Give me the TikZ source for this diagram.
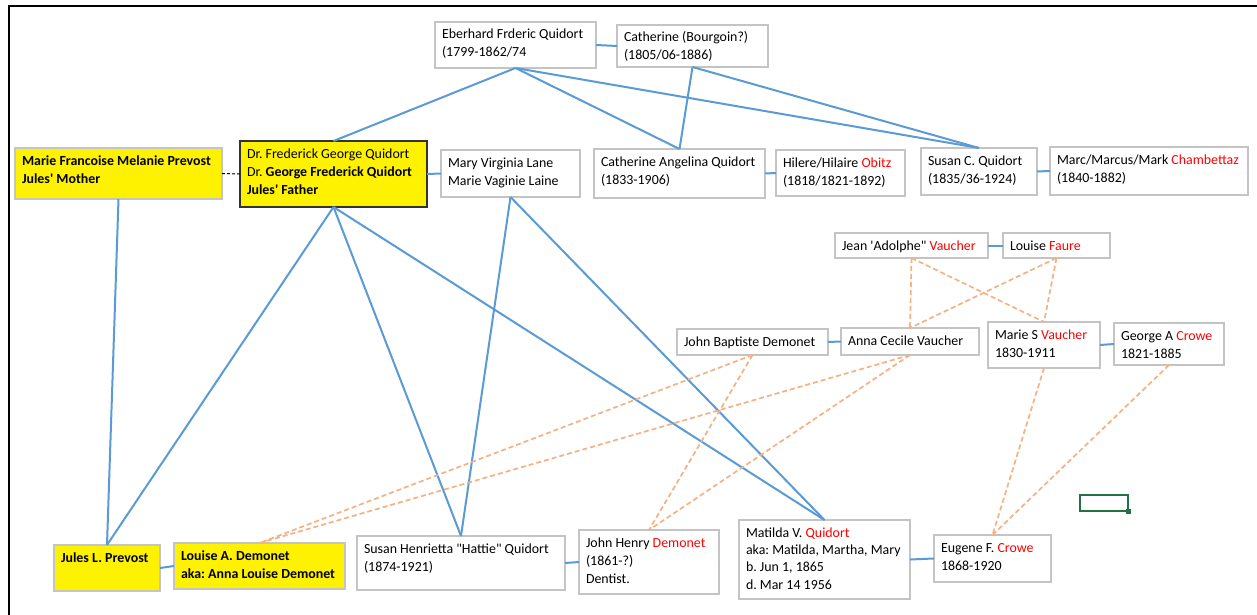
\documentclass[tikz,border=0pt]{standalone}
\usepackage{fontspec}
\setmainfont{Carlito}[Ligatures=TeXOff]
\frenchspacing
\definecolor{lblue}{HTML}{5B9BD5}
\definecolor{lorange}{HTML}{F4B183}
\definecolor{bgray}{HTML}{C4C4C4}
\definecolor{xgreen}{HTML}{217346}
\newcommand{\fbx}[7]{\node[#1] (#2) at (#3,#4) {\parbox[c][#6pt][t]{#5pt}{\frenchspacing\leftskip=7pt\rightskip=0pt plus 1fil\relax\rule{0pt}{17pt}#7}};}
\tikzset{
  x=1pt, y=-1pt,
  box/.style={draw=bgray, line width=1.3pt, fill=white, inner sep=0pt, outer sep=0pt, anchor=north west,
    font=\fontsize{13.9}{18}\selectfont},
  ybox/.style={box, fill=yellow},
  dbox/.style={box, fill=yellow, draw=black!80},
  bl/.style={draw=lblue, line width=2pt},
  ol/.style={draw=lorange, line width=1.7pt, dash pattern=on 5pt off 3pt},
  kd/.style={draw=black, line width=1pt, dash pattern=on 3pt off 2pt}
}
\begin{document}
\begin{tikzpicture}
\useasboundingbox (0,0) rectangle (1257,615);
\fill[white] (0,0) rectangle (1257,615);
\draw[line width=2.2pt] (9,615) -- (9,6) -- (1257,6);
% nodes
\fbx{box}{ebe}{435}{22}{161}{46}{Eberhard Frderic Quidort\\(1799-1862/74}
\fbx{box}{catb}{617}{25}{151}{42}{Catherine (Bourgoin?)\\(1805/06-1886)}
\fbx{ybox}{mfp}{15}{148}{207}{51}{\textbf{Marie Francoise Melanie Prevost}\\\textbf{Jules' Mother}}
\fbx{dbox}{dfq}{240}{141}{187}{66}{Dr. Frederick George Quidort\\Dr. \textbf{George Frederick Quidort}\\\textbf{Jules' Father}}
\fbx{box}{mvl}{441}{150}{139}{47}{Mary Virginia Lane\\Marie Vaginie Laine}
\fbx{box}{caq}{594}{149}{171}{49}{Catherine Angelina Quidort\\(1833-1906)}
\fbx{box}{hil}{776}{150}{129}{46}{Hilere/Hilaire \textcolor{red}{Obitz}\\(1818/1821-1892)}
\fbx{box}{scq}{921}{148}{116}{47}{Susan C. Quidort\\(1835/36-1924)}
\fbx{box}{mmc}{1050}{147}{198}{48}{Marc/Marcus/Mark \textcolor{red}{Chambettaz}\\(1840-1882)}
\fbx{box}{jav}{835}{233}{153}{25}{Jean 'Adolphe" \textcolor{red}{Vaucher}}
\fbx{box}{lfa}{1003}{233}{107}{25}{Louise \textcolor{red}{Faure}}
\fbx{box}{jbd}{677}{329}{151}{26}{John Baptiste Demonet}
\fbx{box}{acv}{841}{328}{138}{27}{Anna Cecile Vaucher}
\fbx{box}{msv}{988}{322}{112}{46}{Marie S \textcolor{red}{Vaucher}\\1830-1911}
\fbx{box}{gac}{1114}{323}{110}{42}{George A \textcolor{red}{Crowe}\\1821-1885}
\fbx{ybox}{jlp}{54}{545}{106}{46}{\textbf{Jules L. Prevost}}
\fbx{ybox}{lad}{174}{543}{171}{46}{\textbf{Louise A. Demonet}\\\textbf{aka: Anna Louise Demonet}}
\fbx{box}{shq}{357}{536}{208}{54}{Susan Henrietta "Hattie" Quidort\\(1874-1921)}
\fbx{box}{jhd}{579}{530}{140}{64}{John Henry \textcolor{red}{Demonet}\\(1861-?)\\Dentist.}
\fbx{box, font=\fontsize{13.9}{17.4}\selectfont}{mvq}{739}{520}{171}{79}{Matilda V. \textcolor{red}{Quidort}\\aka: Matilda, Martha, Mary\\b. Jun 1, 1865\\d. Mar 14 1956}
\fbx{box}{efc}{934}{535}{117}{47}{Eugene F. \textcolor{red}{Crowe}\\1868-1920}
% blue connectors
\draw[bl] (ebe.east) -- (catb.west);
\draw[bl] (ebe.south) -- (dfq.north);
\draw[bl] (ebe.south) -- (caq.north);
\draw[bl] (ebe.south) -- (scq.north);
\draw[bl] (catb.south) -- (caq.north);
\draw[bl] (catb.south) -- (scq.north);
\draw[bl] (dfq.east) -- (mvl.west);
\draw[bl] (caq.east) -- (hil.west);
\draw[bl] (scq.east) -- (mmc.west);
\draw[kd] (mfp.east) -- (dfq.west);
\draw[bl] (mfp.south) -- (jlp.north);
\draw[bl] (dfq.south) -- (jlp.north);
\draw[bl] (dfq.south) -- (shq.north);
\draw[bl] (dfq.south) -- (mvq.north);
\draw[bl] (mvl.south) -- (shq.north);
\draw[bl] (mvl.south) -- (mvq.north);
\draw[bl] (jlp.east) -- (lad.west);
\draw[bl] (shq.east) -- (jhd.west);
\draw[bl] (mvq.east) -- (efc.west);
\draw[bl] (jav.east) -- (lfa.west);
\draw[bl] (jbd.east) -- (acv.west);
\draw[bl] (msv.east) -- (gac.west);
% orange dashed connectors
\draw[ol] (jav.south) -- (acv.north);
\draw[ol] (jav.south) -- (msv.north);
\draw[ol] (lfa.south) -- (acv.north);
\draw[ol] (lfa.south) -- (msv.north);
\draw[ol] (jbd.south) -- (lad.north);
\draw[ol] (jbd.south) -- (jhd.north);
\draw[ol] (acv.south) -- (lad.north);
\draw[ol] (acv.south) -- (jhd.north);
\draw[ol] (msv.south) -- (efc.north);
\draw[ol] (gac.south) -- (efc.north);
% spreadsheet cell selector
\draw[xgreen, line width=2pt] (1080,495) rectangle (1128,511);
\fill[xgreen] (1126,509) rectangle (1131,514);
\end{tikzpicture}
\end{document}
